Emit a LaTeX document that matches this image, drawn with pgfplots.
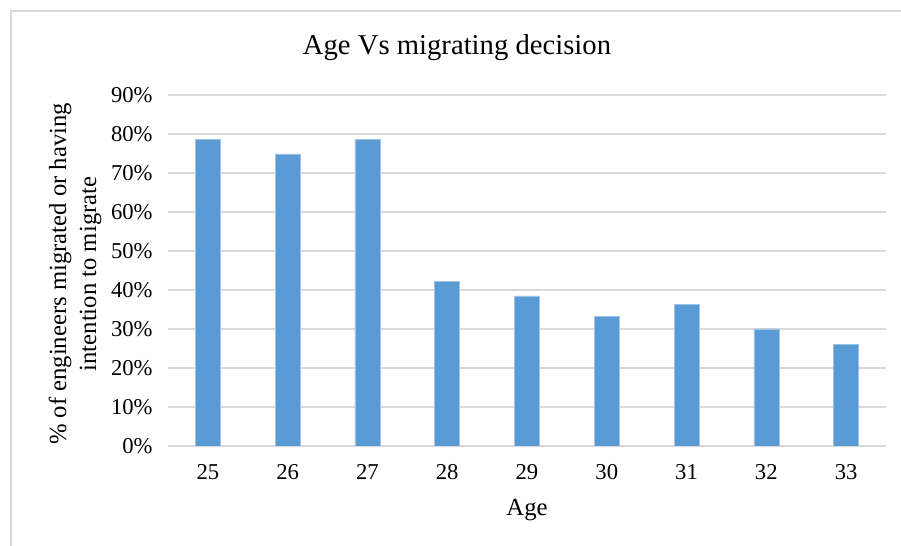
\documentclass[border=0pt]{standalone}
\usepackage{fontspec}
\setmainfont{Liberation Serif}
\usepackage{pgfplots}
\pgfplotsset{compat=1.18}
\definecolor{barblue}{HTML}{5B9BD5}
\definecolor{gridgray}{HTML}{D9D9D9}
\begin{document}
\begin{tikzpicture}
\path[use as bounding box] (0,0) rectangle (675.75pt,409.5pt);
\draw[gridgray, line width=1pt] (8.25pt,0) -- (8.25pt,401.25pt) -- (675.75pt,401.25pt);
\node[anchor=base, font=\fontsize{21.5}{25}\selectfont] at (342.75pt,368.25pt) {Age Vs migrating decision};
\begin{axis}[
  at={(126pt,75pt)}, anchor=south west,
  scale only axis, width=538.5pt, height=263.25pt,
  xmin=-0.5, xmax=8.5, ymin=0, ymax=90,
  xtick=data, xticklabels={25,26,27,28,29,30,31,32,33},
  ytick={0,10,20,30,40,50,60,70,80,90},
  yticklabels={0\%,10\%,20\%,30\%,40\%,50\%,60\%,70\%,80\%,90\%},
  /pgf/number format/assume math mode=true,
  axis line style={draw=none},
  major tick length=0pt,
  ymajorgrids, grid style={gridgray, line width=1.1pt},
  ticklabel style={font=\fontsize{17}{20}\selectfont},
  yticklabel style={xshift=-8pt},
  xticklabel style={yshift=-10pt},
  every axis x label/.style={at={(axis description cs:0.5,-0.182)}, anchor=center, font=\fontsize{18.5}{22}\selectfont},
  every axis y label/.style={at={(axis description cs:-0.1295,0.49)}, rotate=90, anchor=center, align=center, font=\fontsize{18.5}{22.5}\selectfont},
  xlabel={Age},
  ylabel={\% of engineers migrated or having\\intention to migrate},
]
\addplot[ybar, bar width=18.75pt, fill=barblue, draw=barblue!60!white, line width=0.4pt] coordinates {
(0,78.6) (1,74.9) (2,78.7) (3,42.3) (4,38.5) (5,33.3) (6,36.3) (7,30.0) (8,26.1)
};
\end{axis}
\end{tikzpicture}
\end{document}
